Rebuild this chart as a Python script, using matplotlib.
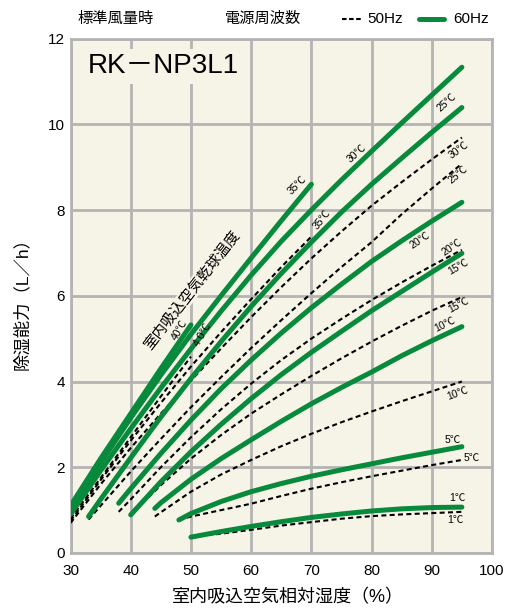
import matplotlib
matplotlib.use("Agg")
import matplotlib.pyplot as plt
from matplotlib.lines import Line2D

plt.rcParams["font.family"] = ["Liberation Sans", "Noto Sans CJK JP"]

GREEN = "#078A3C"
BG = "#F6F4E6"
GRID = "#B4B4B4"

# 60Hz curves (solid green), x = relative humidity [%], y = dehumidifying capacity [L/h]
x_60_40 = [30, 35, 40, 45, 50]
y_60_40 = [1.1, 2.2, 3.25, 4.3, 5.32]
x_60_35 = [30, 35, 40, 45, 50, 55, 60, 65, 70]
y_60_35 = [1.0, 2.1, 3.15, 4.15, 5.1, 6.0, 6.88, 7.75, 8.6]
x_60_30 = [30, 35, 40, 45, 50, 55, 60, 65, 70, 75, 80, 85, 90, 95]
y_60_30 = [0.9, 1.92, 2.9, 3.85, 4.76, 5.64, 6.48, 7.27, 8.0, 8.7, 9.37, 10.03, 10.68, 11.33]
x_60_25 = [33, 35, 40, 45, 50, 55, 60, 65, 70, 75, 80, 85, 90, 95]
y_60_25 = [0.85, 1.25, 2.22, 3.17, 4.07, 4.93, 5.75, 6.52, 7.25, 7.95, 8.6, 9.21, 9.81, 10.39]
x_60_20 = [38, 40, 45, 50, 55, 60, 65, 70, 75, 80, 85, 90, 95]
y_60_20 = [1.16, 1.5, 2.32, 3.1, 3.83, 4.5, 5.13, 5.72, 6.27, 6.8, 7.28, 7.74, 8.18]
x_60_15 = [40, 45, 50, 55, 60, 65, 70, 75, 80, 85, 90, 95]
y_60_15 = [0.89, 1.66, 2.36, 3.0, 3.6, 4.16, 4.68, 5.17, 5.65, 6.1, 6.55, 6.99]
x_60_10 = [44, 45, 50, 55, 60, 65, 70, 75, 80, 85, 90, 95]
y_60_10 = [1.04, 1.17, 1.72, 2.2, 2.64, 3.07, 3.48, 3.86, 4.22, 4.6, 4.95, 5.28]
x_60_5 = [48, 50, 55, 60, 65, 70, 75, 80, 85, 90, 95]
y_60_5 = [0.77, 0.92, 1.2, 1.43, 1.62, 1.79, 1.94, 2.08, 2.22, 2.35, 2.48]
x_60_1 = [50, 55, 60, 65, 70, 75, 80, 85, 90, 95]
y_60_1 = [0.37, 0.5, 0.62, 0.73, 0.83, 0.91, 0.98, 1.03, 1.06, 1.07]

# 50Hz curves (dashed black)
x_50_40 = [30, 35, 40, 45, 50]
y_50_40 = [0.8, 1.75, 2.7, 3.65, 4.58]
x_50_35 = [30, 35, 40, 45, 50, 55, 60, 65, 70]
y_50_35 = [0.75, 1.7, 2.62, 3.5, 4.35, 5.15, 5.92, 6.67, 7.38]
x_50_30 = [30, 35, 40, 45, 50, 55, 60, 65, 70, 75, 80, 85, 90, 95]
y_50_30 = [0.7, 1.6, 2.45, 3.25, 4.02, 4.77, 5.5, 6.2, 6.87, 7.5, 8.1, 8.65, 9.18, 9.69]
x_50_25 = [33, 35, 40, 45, 50, 55, 60, 65, 70, 75, 80, 85, 90, 95]
y_50_25 = [0.78, 1.1, 1.9, 2.66, 3.4, 4.1, 4.78, 5.43, 6.06, 6.67, 7.25, 7.9, 8.5, 9.08]
x_50_20 = [38, 40, 45, 50, 55, 60, 65, 70, 75, 80, 85, 90, 95]
y_50_20 = [0.96, 1.25, 2.0, 2.7, 3.35, 3.95, 4.5, 5.0, 5.46, 5.9, 6.31, 6.7, 7.07]
x_50_15 = [40, 45, 50, 55, 60, 65, 70, 75, 80, 85, 90, 95]
y_50_15 = [0.89, 1.58, 2.2, 2.75, 3.25, 3.7, 4.13, 4.54, 4.93, 5.3, 5.65, 5.97]
x_50_10 = [44, 45, 50, 55, 60, 65, 70, 75, 80, 85, 90, 95]
y_50_10 = [0.85, 0.95, 1.43, 1.83, 2.17, 2.49, 2.78, 3.05, 3.3, 3.54, 3.77, 4.0]
x_50_5 = [48, 50, 55, 60, 65, 70, 75, 80, 85, 90, 95]
y_50_5 = [0.77, 0.85, 1.0, 1.15, 1.33, 1.5, 1.65, 1.79, 1.92, 2.05, 2.17]
x_50_1 = [50, 55, 60, 65, 70, 75, 80, 85, 90, 95]
y_50_1 = [0.38, 0.45, 0.54, 0.64, 0.72, 0.8, 0.86, 0.9, 0.93, 0.96]

x_ticks = [30, 40, 50, 60, 70, 80, 90, 100]
y_ticks = [0, 2, 4, 6, 8, 10, 12]

# curve labels: text, x, y, rotation
curve_labels = [
    ("40℃", 48.2, 5.2, 60), ("4 0℃", 52.0, 5.09, 60),
    ("35℃", 67.6, 8.59, 45), ("30℃", 77.6, 9.33, 42), ("25℃", 92.5, 10.5, 42),
    ("35℃", 71.8, 7.77, 52), ("30℃", 94.4, 9.4, 36), ("25℃", 94.4, 8.82, 40),
    ("20℃", 88.1, 7.3, 34), ("20℃", 93.4, 7.14, 34), ("15℃", 94.4, 6.67, 30),
    ("15℃", 94.4, 5.79, 28), ("10℃", 92.2, 5.34, 26), ("10℃", 94.2, 3.73, 20),
    ("5℃", 93.5, 2.64, 0), ("5℃", 96.7, 2.22, 0), ("1℃", 94.2, 1.28, 0), ("1℃", 93.9, 0.77, 0),
]

fig = plt.figure(figsize=(5.05, 6.10), dpi=100)
ax = fig.add_axes([70.5 / 505, 1 - 553 / 610, 421.5 / 505, 514.5 / 610])
ax.set_facecolor(BG)

solid = [(x_60_40, y_60_40), (x_60_35, y_60_35), (x_60_30, y_60_30), (x_60_25, y_60_25),
         (x_60_20, y_60_20), (x_60_15, y_60_15), (x_60_10, y_60_10), (x_60_5, y_60_5),
         (x_60_1, y_60_1)]
dashed = [(x_50_40, y_50_40), (x_50_35, y_50_35), (x_50_30, y_50_30), (x_50_25, y_50_25),
          (x_50_20, y_50_20), (x_50_15, y_50_15), (x_50_10, y_50_10), (x_50_5, y_50_5),
          (x_50_1, y_50_1)]

for xs, ys in dashed:
    ax.plot(xs, ys, color="black", lw=1.5, dashes=(2.4, 1.6), zorder=3)
for xs, ys in solid:
    ax.plot(xs, ys, color=GREEN, lw=3.6, solid_capstyle="round", solid_joinstyle="round", zorder=4)

for txt, x, y, rot in curve_labels:
    ax.text(x, y, txt, fontsize=7.5, rotation=rot, ha="center", va="center",
            rotation_mode="anchor", zorder=6)

ax.text(50.2, 6.14, "室内吸込空気乾球温度", fontsize=10.5, rotation=52, ha="center", va="center",
        rotation_mode="anchor", zorder=5,
        bbox=dict(facecolor=BG, edgecolor="none", pad=1))

ax.text(32.9, 11.35, "RK－NP3L1", fontsize=20, ha="left", va="center", zorder=5,
        bbox=dict(facecolor=BG, edgecolor="none", pad=3))

ax.set_xlim(30, 100)
ax.set_ylim(0, 12)
ax.set_xticks(x_ticks)
ax.set_yticks(y_ticks)
ax.grid(True, color=GRID, lw=2.0, zorder=1)
ax.set_axisbelow(True)
for s in ax.spines.values():
    s.set_color(GRID)
    s.set_linewidth(2.0)
ax.tick_params(length=0, labelsize=11)
ax.tick_params(axis="x", pad=8)
ax.tick_params(axis="y", pad=4)

fig.text(288 / 505, 1 - 598 / 610, "室内吸込空気相対湿度（%）", fontsize=13, ha="center", va="center")
fig.text(22 / 505, 1 - 300 / 610, "除湿能力（L／h）", fontsize=12.5, rotation=90, ha="center", va="center")

# header
fig.text(77 / 505, 1 - 19 / 610, "標準風量時", fontsize=11, ha="left", va="center")
fig.text(225 / 505, 1 - 19 / 610, "電源周波数", fontsize=11, ha="left", va="center")
fig.add_artist(Line2D([342 / 505, 362 / 505], [1 - 19 / 610] * 2, color="black", lw=1.5,
                      dashes=(2.2, 1.2)))
fig.text(367 / 505, 1 - 19 / 610, "50Hz", fontsize=11, ha="left", va="center")
fig.add_artist(Line2D([419 / 505, 444 / 505], [1 - 19 / 610] * 2, color=GREEN, lw=3.6,
                      solid_capstyle="round"))
fig.text(453 / 505, 1 - 19 / 610, "60Hz", fontsize=11, ha="left", va="center")

fig.savefig("out.png", dpi=100)
